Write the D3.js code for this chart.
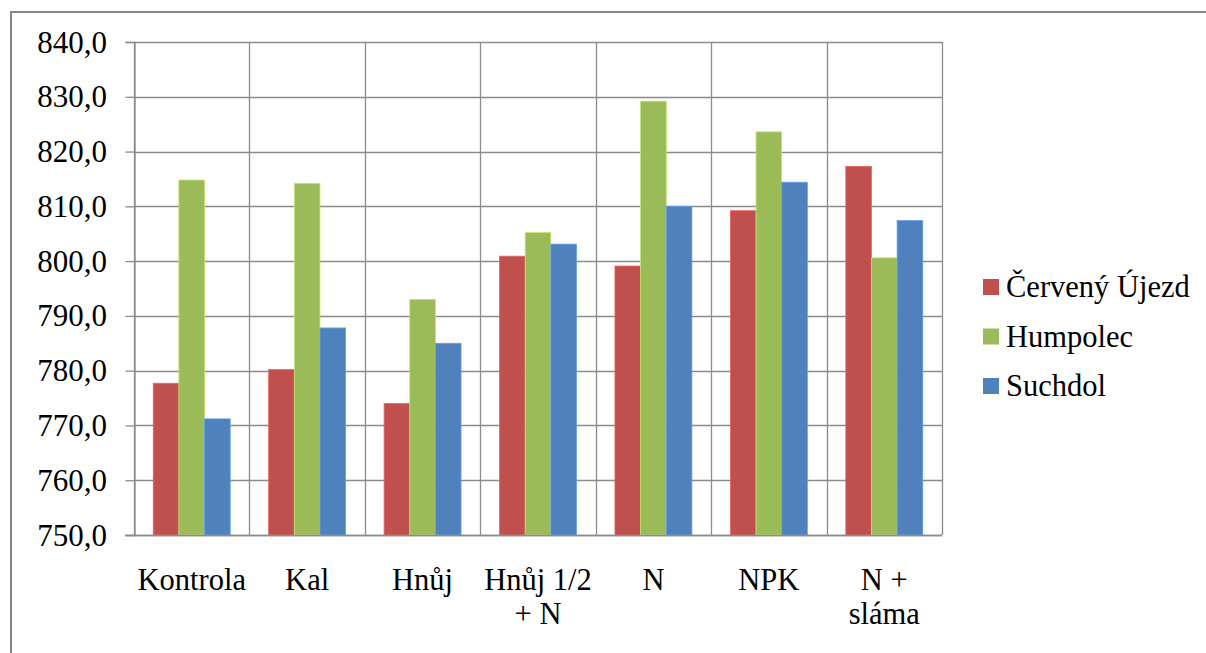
<!DOCTYPE html>
<html>
<head>
<meta charset="utf-8">
<script src="https://cdn.jsdelivr.net/npm/d3@7"></script>
<style>
  svg text, svg tspan { font-family: "Liberation Serif" !important; }
</style>
</head>
<body style="margin:0">
<svg id="s" width="1206" height="653"></svg>
<script>
// Treatments (category axis); multi-line labels are split into lines
const categories = ["Kontrola", "Kal", "Hnůj", "Hnůj 1/2 + N", "N", "NPK", "N + sláma"];
const categoryLines = [["Kontrola"], ["Kal"], ["Hnůj"], ["Hnůj 1/2", "+ N"], ["N"], ["NPK"], ["N +", "sláma"]];

// Sites (series)
const seriesNames = ["Červený Újezd", "Humpolec", "Suchdol"];
const seriesColors = ["#C0504D", "#9BBB59", "#4F81BD"];

// Values per site, one per treatment
const cervenyUjezd = [777.7, 780.2, 774.0, 800.9, 799.1, 809.2, 817.3];
const humpolec     = [814.8, 814.2, 793.0, 805.2, 829.2, 823.6, 800.6];
const suchdol      = [771.2, 787.8, 785.0, 803.1, 810.0, 814.4, 807.4];
const seriesValues = [cervenyUjezd, humpolec, suchdol];

// Value axis ticks
const yTicks = [750, 760, 770, 780, 790, 800, 810, 820, 830, 840];

const svg = d3.select("#s");
const plot = { left: 134, right: 942, top: 42, bottom: 535 };
const gridColor = "#8c8c8c";

// Serif text styling applied to every label
const serifText = (sel, size) => sel
  .style("font-family", '"Liberation Serif"', "important")
  .style("font-size", size + "px", "important")
  .attr("fill", "#000");

// Outer chart frame (only the top and left edges fall inside the view)
svg.append("rect")
  .attr("x", 11).attr("y", 12)
  .attr("width", 1300).attr("height", 700)
  .attr("fill", "none")
  .attr("stroke", "#868686")
  .attr("stroke-width", 2);

const x0 = d3.scaleBand().domain(categories).range([plot.left, plot.right]).paddingInner(0).paddingOuter(0);
const x1 = d3.scaleBand().domain(seriesNames).range([0, x0.bandwidth()]).paddingInner(0).paddingOuter(0.75);
const y = d3.scaleLinear().domain([750, 840]).range([plot.bottom, plot.top]);

const fmt = v => d3.format(".1f")(v).replace(".", ",");

// Horizontal gridlines
svg.append("g")
  .selectAll("line")
  .data(yTicks)
  .join("line")
  .attr("x1", plot.left).attr("x2", plot.right)
  .attr("y1", d => Math.round(y(d)) + 0.5).attr("y2", d => Math.round(y(d)) + 0.5)
  .attr("stroke", gridColor).attr("stroke-width", 1.3);

// Vertical category gridlines
const bounds = categories.map(c => x0(c)).concat([plot.right]);
svg.append("g")
  .selectAll("line")
  .data(bounds)
  .join("line")
  .attr("x1", d => Math.round(d) + 0.5).attr("x2", d => Math.round(d) + 0.5)
  .attr("y1", plot.top).attr("y2", plot.bottom)
  .attr("stroke", gridColor).attr("stroke-width", 1.3);

// Value axis: tick marks from the axis generator, labels drawn as plain texts
const yAxis = d3.axisLeft(y).tickValues(yTicks).tickFormat("").tickSize(9);
const yg = svg.append("g").attr("transform", `translate(${plot.left + 0.5},0)`).call(yAxis);
yg.select(".domain").attr("stroke", gridColor).attr("stroke-width", 1.3);
yg.selectAll(".tick line").attr("stroke", gridColor).attr("stroke-width", 1.3);
yg.selectAll(".tick text").remove();

svg.selectAll(null)
  .data(yTicks)
  .enter()
  .append("text")
  .call(serifText, 31)
  .attr("x", 107)
  .attr("y", d => y(d) + 10.5)
  .attr("text-anchor", "end")
  .text(fmt);

// Bars
const groups = svg.append("g")
  .selectAll("g")
  .data(categories)
  .join("g")
  .attr("transform", d => `translate(${x0(d)},0)`);

groups.selectAll("rect")
  .data((c, i) => seriesNames.map((s, j) => ({ s, color: seriesColors[j], v: seriesValues[j][i] })))
  .join("rect")
  .attr("x", d => x1(d.s))
  .attr("width", x1.bandwidth())
  .attr("y", d => y(d.v))
  .attr("height", d => y(750) - y(d.v))
  .attr("fill", d => d.color)
  .attr("stroke", d => d3.color(d.color).brighter(0.6))
  .attr("stroke-width", 0.8);

// Bottom axis line drawn over bar bases
svg.append("line")
  .attr("x1", plot.left - 9).attr("x2", plot.right)
  .attr("y1", Math.round(y(750)) + 0.5).attr("y2", Math.round(y(750)) + 0.5)
  .attr("stroke", gridColor).attr("stroke-width", 1.3);

// Category labels, one text per line
const catLines = [];
categories.forEach((c, i) => categoryLines[i].forEach((line, k) => catLines.push({ c, line, k })));
svg.selectAll(null)
  .data(catLines)
  .enter()
  .append("text")
  .call(serifText, 30.5)
  .attr("x", d => x0(d.c) + x0.bandwidth() / 2)
  .attr("y", d => 590 + d.k * 34)
  .attr("text-anchor", "middle")
  .text(d => d.line);

// Legend
svg.selectAll(null)
  .data(seriesNames)
  .enter()
  .append("rect")
  .attr("x", 983).attr("y", (d, i) => 279 + i * 49.5)
  .attr("width", 16).attr("height", 16)
  .attr("fill", (d, i) => seriesColors[i]);
svg.selectAll(null)
  .data(seriesNames)
  .enter()
  .append("text")
  .call(serifText, 30.5)
  .attr("x", 1006)
  .attr("y", (d, i) => 297 + i * 49.5)
  .text(d => d);
</script>
</body>
</html>
